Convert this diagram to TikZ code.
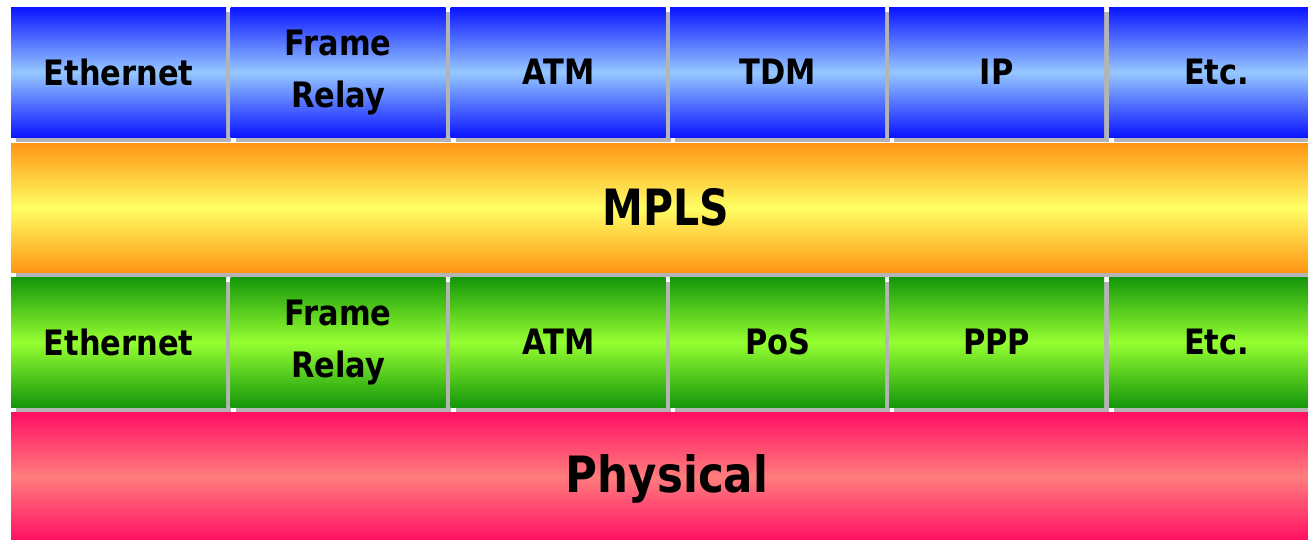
\documentclass[tikz,border=0pt]{standalone}
\usepackage{fontspec}
\newfontfamily\labelfont{DejaVu Sans}[FakeStretch=0.87]
\newfontfamily\bigfont{DejaVu Sans}[FakeStretch=0.82]
\newfontfamily\physfont{DejaVu Sans}[FakeStretch=0.87]
\definecolor{shadowgray}{RGB}{180,180,180}
\definecolor{blueD}{RGB}{10,20,255}
\definecolor{blueL}{RGB}{150,200,255}
\definecolor{orangeD}{RGB}{255,150,20}
\definecolor{yellowL}{RGB}{255,255,100}
\definecolor{greenD}{RGB}{20,150,10}
\definecolor{greenL}{RGB}{150,255,50}
\definecolor{pinkD}{RGB}{255,15,100}
\definecolor{pinkL}{RGB}{255,125,125}
\tikzset{
  cellbase/.style={anchor=north west, inner sep=0pt, draw=none, align=center,
    preaction={fill=shadowgray, transform canvas={shift={(5pt,-5pt)}}}},
  smallcell/.style={cellbase, minimum width=215pt, minimum height=130pt,
    font=\labelfont\bfseries\fontsize{35}{52}\selectfont},
  widecell/.style={cellbase, minimum width=1320pt, minimum height=129pt,
    font=\bigfont\bfseries\fontsize{50}{60}\selectfont},
  bluecell/.style={smallcell, top color=blueD, bottom color=blueD, middle color=blueL},
  greencell/.style={smallcell, top color=greenD, bottom color=greenD, middle color=greenL},
  mplscell/.style={widecell, top color=orangeD, bottom color=orangeD, middle color=yellowL},
  physcell/.style={widecell, top color=pinkD, bottom color=pinkD, middle color=pinkL},
}
\begin{document}
\begin{tikzpicture}[x=1pt,y=-1pt]
\useasboundingbox (0,0) rectangle (1308,539);
\clip (0,0) rectangle (1308,539);
\fill[white] (0,0) rectangle (1308,539);
% top row
\node[bluecell] (t1) at (11,7) {Ethernet};
\node[bluecell] (t2) at (230.5,7) {Frame\\Relay};
\node[bluecell] (t3) at (450.5,7) {ATM};
\node[bluecell] (t4) at (670,7) {TDM};
\node[bluecell] (t5) at (889,7) {IP};
\node[bluecell] (t6) at (1109,7) {};
\node[font=\labelfont\bfseries\fontsize{35}{52}\selectfont] (t6l) at (1216.5,72) {Etc.};
% MPLS
\node[mplscell] (mpls) at (11,143) {};
\node[font=\bigfont\bfseries\fontsize{50}{60}\selectfont] (mplsl) at (666,207.5) {MPLS};
% green row
\node[greencell] (g1) at (11,277) {Ethernet};
\node[greencell] (g2) at (230.5,277) {Frame\\Relay};
\node[greencell] (g3) at (450.5,277) {ATM};
\node[greencell] (g4) at (670,277) {PoS};
\node[greencell] (g5) at (889,277) {PPP};
\node[greencell] (g6) at (1109,277) {};
\node[font=\labelfont\bfseries\fontsize{35}{52}\selectfont] (g6l) at (1216.5,342) {Etc.};
% physical
\node[physcell] (phys) at (11,412) {};
\node[font=\physfont\bfseries\fontsize{50}{60}\selectfont] (physl) at (667,479) {Physical};
\end{tikzpicture}
\end{document}
